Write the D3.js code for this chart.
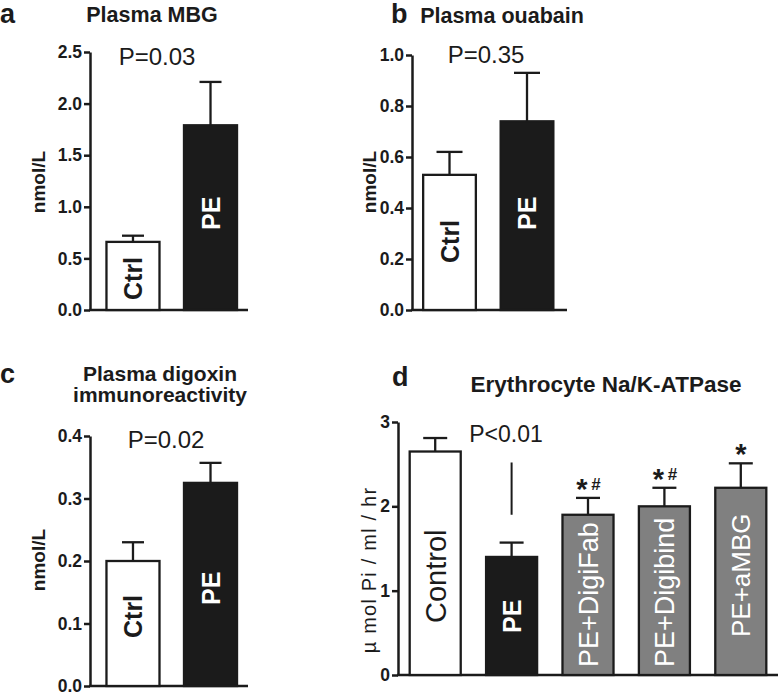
<!DOCTYPE html>
<html>
<head>
<meta charset="utf-8">
<script src="https://cdn.jsdelivr.net/npm/d3@7"></script>
<style>
  html, body { margin: 0; padding: 0; background: #fff; }
  svg { display: block; font-family: "Liberation Sans", Arial, sans-serif; }
</style>
</head>
<body>
<svg id="chart" width="780" height="695"></svg>
<script>
// ---------------- DATA ----------------
// Panel a: Plasma MBG (nmol/L)
const aCategories = ["Ctrl", "PE"];
const aMeans = [0.66, 1.79];
const aErrTop = [0.72, 2.21];
const aTicks = [0, 0.5, 1.0, 1.5, 2.0, 2.5];

// Panel b: Plasma ouabain (nmol/L)
const bCategories = ["Ctrl", "PE"];
const bMeans = [0.53, 0.74];
const bErrTop = [0.62, 0.93];
const bTicks = [0, 0.2, 0.4, 0.6, 0.8, 1.0];

// Panel c: Plasma digoxin immunoreactivity (nmol/L)
const cCategories = ["Ctrl", "PE"];
const cMeans = [0.20, 0.325];
const cErrTop = [0.23, 0.357];
const cTicks = [0, 0.1, 0.2, 0.3, 0.4];

// Panel d: Erythrocyte Na/K-ATPase (µmol Pi / ml / hr)
const dCategories = ["Control", "PE", "PE+DigiFab", "PE+Digibind", "PE+aMBG"];
const dMeans = [2.65, 1.40, 1.90, 2.00, 2.22];
const dErrTop = [2.81, 1.57, 2.10, 2.22, 2.51];
const dTicks = [0, 1, 2, 3];
const dMarkers = ["", "", "*#", "*#", "*"];

const pLabels = ["P=0.03", "P=0.35", "P=0.02", "P<0.01"];

// ---------------- DRAWING ----------------
const svg = d3.select("#chart");
const INK = "#1b1b1b";
const BLACK = "#1b1b1b";
const GRAY = "#808080";
const FONT = "'Liberation Sans', Arial, sans-serif";

function drawPanel(cfg) {
  const g = svg.append("g");
  const y = d3.scaleLinear().domain([0, cfg.yMax]).range([cfg.yBottom, cfg.yTop]);
  const x = d3.scaleBand().domain(cfg.cats).range([cfg.xLeft, cfg.xRight])
    .paddingInner(cfg.padInner).paddingOuter(cfg.padOuter).align(cfg.align);

  // panel letter
  g.append("text").attr("x", cfg.letterX).attr("y", cfg.letterY)
    .attr("font-size", 27).attr("font-weight", "bold").attr("fill", INK)
    .text(cfg.letter);

  // title
  cfg.title.forEach((t, i) => {
    g.append("text").attr("x", cfg.titleX).attr("y", cfg.titleY + i * cfg.titleGap)
      .attr("text-anchor", "middle").attr("font-size", cfg.titleSize)
      .attr("font-weight", "bold").attr("fill", INK).text(t);
  });

  // y axis
  const axis = d3.axisLeft(y).tickValues(cfg.ticks).tickFormat(cfg.fmt)
    .tickSize(6).tickSizeOuter(0).tickPadding(2);
  const ag = g.append("g").attr("transform", `translate(${cfg.xLeft},0)`).call(axis);
  ag.select(".domain").attr("stroke", INK).attr("stroke-width", 2.5);
  ag.selectAll(".tick line").attr("stroke", INK).attr("stroke-width", 2.5);
  ag.selectAll(".tick text").attr("fill", INK).attr("font-size", cfg.tickSize)
    .attr("font-weight", "bold").attr("font-family", FONT);

  // x axis baseline
  g.append("line").attr("x1", cfg.xLeft - 1).attr("x2", cfg.xRight)
    .attr("y1", y(0)).attr("y2", y(0)).attr("stroke", INK).attr("stroke-width", 2.5);

  // y label
  g.append("text")
    .attr("transform", `translate(${cfg.ylabX},${cfg.ylabY}) rotate(-90)`)
    .attr("text-anchor", "middle").attr("dy", "0.35em")
    .attr("font-size", cfg.ylabSize).attr("font-weight", cfg.ylabWeight)
    .attr("letter-spacing", cfg.ylabSpacing || 0)
    .attr("fill", INK).text(cfg.ylab);

  // bars
  g.selectAll("rect.bar").data(cfg.cats).join("rect")
    .attr("class", "bar")
    .attr("x", d => x(d)).attr("width", x.bandwidth())
    .attr("y", (d, i) => y(cfg.means[i]))
    .attr("height", (d, i) => y(0) - y(cfg.means[i]))
    .attr("fill", (d, i) => cfg.fills[i])
    .attr("stroke", INK).attr("stroke-width", 2.3);

  // error bars
  const cap = cfg.capW;
  cfg.cats.forEach((d, i) => {
    const cx = x(d) + x.bandwidth() / 2;
    g.append("line").attr("x1", cx).attr("x2", cx)
      .attr("y1", y(cfg.means[i])).attr("y2", y(cfg.errs[i]))
      .attr("stroke", INK).attr("stroke-width", 2.3);
    g.append("line").attr("x1", cx - cap / 2).attr("x2", cx + cap / 2)
      .attr("y1", y(cfg.errs[i])).attr("y2", y(cfg.errs[i]))
      .attr("stroke", INK).attr("stroke-width", 2.3);
  });

  // bar labels (rotated)
  cfg.cats.forEach((d, i) => {
    const cx = x(d) + x.bandwidth() / 2;
    g.append("text")
      .attr("transform", `translate(${cx},${y(0) - cfg.labOff[i]}) rotate(-90)`)
      .attr("dy", "0.36em").attr("text-anchor", "start")
      .attr("font-size", cfg.labSize[i]).attr("font-weight", cfg.labWeight[i])
      .attr("fill", cfg.labColor[i]).text(d);
  });

  // P text
  g.append("text").attr("x", cfg.pX).attr("y", cfg.pY).attr("text-anchor", "middle")
    .attr("font-size", cfg.pSize).attr("fill", INK).text(cfg.pText);

  return { g, x, y };
}

const f1 = d3.format(".1f");
const f0 = d3.format("d");

// Panel a
drawPanel({
  letter: "a", letterX: 0, letterY: 23,
  title: ["Plasma MBG"], titleX: 152, titleY: 22, titleSize: 21.5, titleGap: 0,
  cats: aCategories, means: aMeans, errs: aErrTop,
  yMax: 2.5, yBottom: 310, yTop: 52, ticks: aTicks, fmt: f1, tickSize: 17.5,
  xLeft: 90, xRight: 248, padInner: 0.316, padOuter: 0.177, align: 0.6,
  fills: ["#ffffff", BLACK], capW: 22,
  ylab: "nmol/L", ylabX: 38, ylabY: 182, ylabSize: 19, ylabWeight: "bold",
  labOff: [10, 80], labSize: [25, 25], labWeight: ["bold", "bold"], labColor: [INK, "#ffffff"],
  pText: pLabels[0], pX: 157, pY: 65, pSize: 24
});

// Panel b
drawPanel({
  letter: "b", letterX: 391, letterY: 23,
  title: ["Plasma ouabain"], titleX: 502, titleY: 23, titleSize: 21.5, titleGap: 0,
  cats: bCategories, means: bMeans, errs: bErrTop,
  yMax: 1.0, yBottom: 310, yTop: 55, ticks: bTicks, fmt: f1, tickSize: 17.5,
  xLeft: 412, xRight: 567, padInner: 0.32, padOuter: 0.16, align: 0.45,
  fills: ["#ffffff", BLACK], capW: 26,
  ylab: "nmol/L", ylabX: 369, ylabY: 182, ylabSize: 19, ylabWeight: "bold",
  labOff: [47, 80], labSize: [25, 25], labWeight: ["bold", "bold"], labColor: [INK, "#ffffff"],
  pText: pLabels[1], pX: 486, pY: 63, pSize: 24
});

// Panel c
drawPanel({
  letter: "c", letterX: 0, letterY: 383,
  title: ["Plasma digoxin", "immunoreactivity"], titleX: 160, titleY: 381, titleSize: 21, titleGap: 21,
  cats: cCategories, means: cMeans, errs: cErrTop,
  yMax: 0.4, yBottom: 686, yTop: 436, ticks: cTicks, fmt: f1, tickSize: 17.5,
  xLeft: 90, xRight: 248, padInner: 0.316, padOuter: 0.177, align: 0.6,
  fills: ["#ffffff", BLACK], capW: 22,
  ylab: "nmol/L", ylabX: 38, ylabY: 560, ylabSize: 19, ylabWeight: "bold",
  labOff: [48, 81], labSize: [25, 25], labWeight: ["bold", "bold"], labColor: [INK, "#ffffff"],
  pText: pLabels[2], pX: 166, pY: 448, pSize: 24
});

// Panel d
const pd = drawPanel({
  letter: "d", letterX: 392, letterY: 386,
  title: ["Erythrocyte Na/K-ATPase"], titleX: 606, titleY: 392, titleSize: 22.5, titleGap: 0,
  cats: dCategories, means: dMeans, errs: dErrTop,
  yMax: 3, yBottom: 675, yTop: 422, ticks: dTicks, fmt: f0, tickSize: 17.5,
  xLeft: 398, xRight: 778, padInner: 0.332, padOuter: 0.153, align: 0.5,
  fills: ["#ffffff", BLACK, GRAY, GRAY, GRAY], capW: 24,
  ylab: "\u00b5 mol Pi / ml / hr", ylabX: 369, ylabY: 570, ylabSize: 20, ylabWeight: "normal",
  ylabSpacing: 1.2,
  labOff: [52, 42, 8, 8, 38], labSize: [29, 25, 27, 27, 26],
  labWeight: ["normal", "bold", "normal", "normal", "normal"],
  labColor: [INK, "#ffffff", "#ffffff", "#ffffff", "#ffffff"],
  pText: pLabels[3], pX: 506, pY: 442, pSize: 23
});

// P<0.01 connector line above PE bar
{
  const cx = pd.x("PE") + pd.x.bandwidth() / 2;
  pd.g.append("line").attr("x1", cx).attr("x2", cx)
    .attr("y1", pd.y(2.52)).attr("y2", pd.y(1.90))
    .attr("stroke", INK).attr("stroke-width", 2);
}

// significance markers
dCategories.forEach((c, i) => {
  const m = dMarkers[i];
  if (!m) return;
  const cx = pd.x(c) + pd.x.bandwidth() / 2;
  const top = pd.y(dErrTop[i]);
  const hasHash = m.includes("#");
  pd.g.append("text").attr("x", hasHash ? cx - 6 : cx).attr("y", top - 15.5)
    .attr("dy", "0.57em").attr("text-anchor", "middle")
    .attr("font-size", 29).attr("font-weight", "bold").attr("fill", INK).text("*");
  if (hasHash) {
    pd.g.append("text").attr("x", cx + 8).attr("y", top - 8).attr("text-anchor", "middle")
      .attr("font-size", 17).attr("font-weight", "bold").attr("fill", INK).text("#");
  }
});
</script>
</body>
</html>
